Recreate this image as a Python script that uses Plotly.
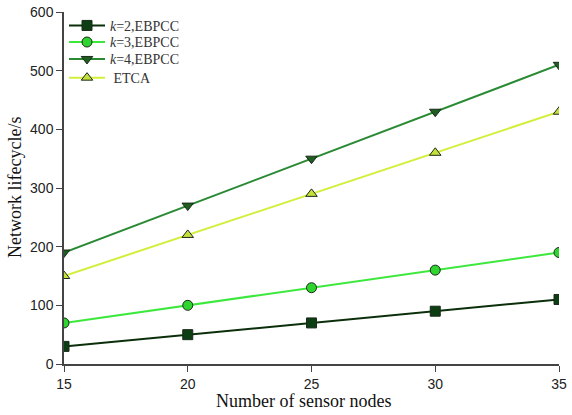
import plotly.graph_objects as go

nodes = [15, 20, 25, 30, 35]
k2 = [30, 50, 70, 90, 110]
k3 = [70, 100, 130, 160, 190]
k4 = [190, 270, 350, 430, 510]
etca = [150, 220, 290, 360, 430]

names = ["<i>k</i>=2,EBPCC", "<i>k</i>=3,EBPCC", "<i>k</i>=4,EBPCC", " ETCA"]
series = [k2, k3, k4, etca]
line_colors = ["#0b2e0b", "#3de83d", "#2a8a34", "#d4ee3c"]
marker_colors = ["#0d3d12", "#2fd42f", "#1e5e1e", "#c6e03a"]
symbols = ["square", "circle", "triangle-down", "triangle-up"]
legend_rows_y = [0.958, 0.911, 0.863, 0.810]

x_title = "Number of sensor nodes"
y_title = "Network lifecycle/s"

fig = go.Figure()
legend_layout = {}
for i, (name, ys, lc, mc, sym, ly) in enumerate(zip(names, series, line_colors, marker_colors, symbols, legend_rows_y)):
    lid = "legend" if i == 0 else f"legend{i+1}"
    fig.add_trace(go.Scatter(
        x=nodes, y=ys, name=name, mode="lines+markers", legend=lid,
        line=dict(color=lc, width=2),
        marker=dict(symbol=sym, size=10, color=mc, line=dict(color="#1a2a1a", width=1)),
    ))
    legend_layout[lid] = dict(
        x=0.0, y=ly, xanchor="left", yanchor="middle",
        bgcolor="rgba(255,255,255,0)",
        font=dict(family="Liberation Serif, Times New Roman", size=14, color="#333"),
        itemwidth=36,
    )

title_font = dict(family="Liberation Serif, Times New Roman", size=18, color="#111")
fig.update_layout(
    width=572, height=415,
    margin=dict(l=64, r=13, t=11, b=51),
    paper_bgcolor="white", plot_bgcolor="white",
    font=dict(family="Liberation Sans, Arial", size=14, color="#222"),
    showlegend=True,
    annotations=[
        dict(text=x_title, xref="paper", yref="paper", x=0.483, y=0, yanchor="middle",
             yshift=-37, showarrow=False, font=title_font),
        dict(text=y_title, xref="paper", yref="paper", x=0, y=0.5, xanchor="center",
             xshift=-49, textangle=-90, showarrow=False, font=title_font),
    ],
    **legend_layout,
)
fig.update_xaxes(
    range=[15, 35], tickvals=nodes, ticks="outside", ticklen=6, automargin=False,
    showline=True, linecolor="#444", linewidth=1.5, tickcolor="#444",
    showgrid=False, zeroline=False,
)
fig.update_yaxes(
    range=[0, 600], tickvals=[0, 100, 200, 300, 400, 500, 600], ticks="outside", ticklen=6,
    automargin=False,
    showline=True, linecolor="#444", linewidth=1.5, tickcolor="#444",
    showgrid=False, zeroline=False,
)
fig.write_html("out.html", config={"displayModeBar": False},
               post_script="document.body.style.margin='0';document.body.style.overflow='hidden';")
